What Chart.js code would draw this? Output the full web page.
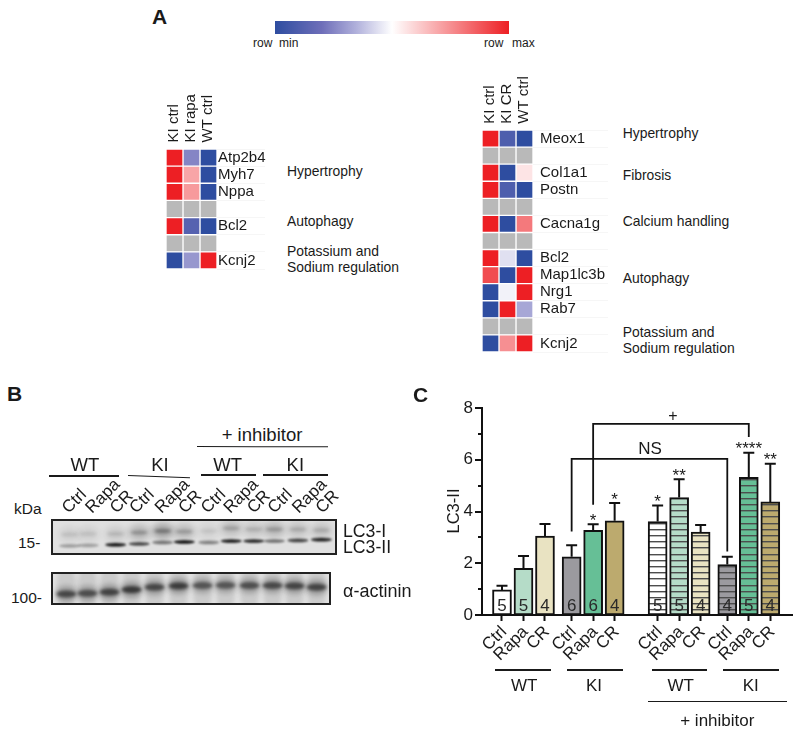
<!DOCTYPE html>
<html>
<head>
<meta charset="utf-8">
<title>LC3-II figure</title>
<script src="https://cdn.jsdelivr.net/npm/chart.js@4"></script>
<style>
    html, body { margin: 0; padding: 0; background: #fff; }
    #page { position: relative; width: 800px; height: 733px; overflow: hidden; font-family: "Liberation Sans", Arial, sans-serif; color: #1a1a1a; }
    #page canvas { position: absolute; }
    .label { position: absolute; white-space: nowrap; line-height: 1; }
    .rule { position: absolute; background: #1a1a1a; transform-origin: 0 50%; }
</style>
</head>
<body>
<div id="page"></div>
<script>
// panel A, heatmap values run from -1 (row min) to 1 (row max), null is a grey spacer row
const LEFT_COLUMNS = ["KI ctrl", "KI rapa", "WT ctrl"];
const LEFT_GENES = ["Atp2b4", "Myh7", "Nppa", "", "Bcl2", "", "Kcnj2"];
const LEFT_KI_CTRL = [1, 1, 1, null, 1, null, -1];
const LEFT_KI_RAPA = [-0.5, 0.4, 0.45, null, -0.75, null, -0.42];
const LEFT_WT_CTRL = [-1, -1, -1, null, -1, null, 1];

const RIGHT_COLUMNS = ["KI ctrl", "KI CR", "WT ctrl"];
const RIGHT_GENES = ["Meox1", "", "Col1a1", "Postn", "", "Cacna1g", "", "Bcl2", "Map1lc3b", "Nrg1", "Rab7", "", "Kcnj2"];
const RIGHT_KI_CTRL = [1, null, 1, 1, null, 1, null, 1, 0.8, -1, -1, null, -1];
const RIGHT_KI_CR = [-0.8, null, -1, -0.8, null, -1, null, -0.12, -1, -0.05, 1, null, 0.5];
const RIGHT_WT_CTRL = [-1, null, 0.12, -1, null, 0.6, null, -1, 1, 1, -0.35, null, 1];

// blue side of the colour bar goes through a slightly violet tone
const HEAT_STOPS = [
    [-1, 46, 77, 160],
    [-0.6, 110, 110, 185],
    [-0.3, 178, 178, 220],
    [0, 255, 255, 255],
    [1, 237, 31, 36],
];

// panel B, bands read from the two gels (position along the gel, depth in the gel, darkness)
const LANE_LABELS = ["Ctrl", "Rapa", "CR", "Ctrl", "Rapa", "CR", "Ctrl", "Rapa", "CR", "Ctrl", "Rapa", "CR"];
const LANE_TICKS = [18, 42, 67, 87, 113, 137, 160, 183, 207, 228, 253, 277];
const LC3_II_X = [19, 38, 66, 90, 114, 136, 161, 184, 207, 228, 252, 276];
const LC3_II_Y = [31.3, 30.7, 30, 29, 27.3, 26.7, 27.3, 25.7, 25.7, 25.7, 25, 24];
const LC3_II_LEVEL = [0.3, 0.3, 0.95, 0.7, 0.5, 0.95, 0.45, 0.9, 0.85, 0.5, 0.75, 0.9];
const LC3_I_X = [19, 38, 66, 90, 114, 136, 161, 184, 207, 228, 252, 276];
const LC3_I_Y = [18, 17.3, 17.3, 15.7, 14, 14.7, 14, 10.7, 12, 12, 12, 13];
const LC3_I_LEVEL = [0.12, 0.12, 0.15, 0.3, 0.42, 0.26, 0.1, 0.24, 0.18, 0.28, 0.2, 0.2];
const ACTININ_X = [16, 38, 61, 84, 108, 133, 158, 182, 207, 231, 254, 277];
const ACTININ_Y = [30, 29, 27.4, 24, 20.7, 19, 18.4, 18, 18.4, 18.4, 19, 20.7];
const ACTININ_LEVEL = [0.78, 0.74, 0.82, 0.88, 0.78, 0.86, 0.68, 0.68, 0.72, 0.76, 0.8, 0.8];

// panel C
const CATEGORIES = ["Ctrl", "Rapa", "CR", "Ctrl", "Rapa", "CR", "Ctrl", "Rapa", "CR", "Ctrl", "Rapa", "CR"];
const MEANS = [0.97, 1.8, 3.05, 2.25, 3.27, 3.64, 3.61, 4.54, 3.2, 1.95, 5.32, 4.37];
const UPPER_ERRORS = [1.13, 2.28, 3.52, 2.7, 3.51, 4.33, 4.23, 5.25, 3.48, 2.25, 6.27, 5.85];
const COUNTS = ["5", "5", "4", "6", "6", "4", "5", "5", "4", "4", "5", "4"];
const STARS = ["", "", "", "", "*", "*", "*", "**", "", "", "****", "**"];
const BAR_COLORS = ["#ffffff", "#b5dcc8", "#e9e3c2", "#9b9a9f", "#66bf96", "#bcaa6e"];
const Y_TICKS_MAX = 8;
// from bar, to bar, level of the bracket, bottom of the left leg, bottom of the right leg
const BRACKET_NS = [3, 9, 6.03, 3.23, 2.45];
const BRACKET_PLUS = [4, 10, 7.39, 4.26, 6.88];

const page = document.getElementById("page");
const FONT = "'Liberation Sans', Arial, sans-serif";
const INK = "#1a1a1a";


function addLabel(text, x, y, size, extra = {}) {
    // x is the left edge (or the centre when extra.center is set), y the vertical middle
    const el = document.createElement("div");
    el.className = "label";
    el.textContent = text;
    el.style.left = x + "px";
    el.style.top = y + "px";
    el.style.fontSize = size + "px";
    el.style.transform = extra.rotate ? "translate(-50%,-50%) rotate(" + extra.rotate + "deg)"
        : (extra.center ? "translate(-50%,-50%)" : "translateY(-50%)");
    if (extra.bold) el.style.fontWeight = "bold";
    page.appendChild(el);
}


function addRule(x1, y1, x2, y2, width = 1.4) {
    const el = document.createElement("div");
    el.className = "rule";
    el.style.left = x1 + "px";
    el.style.top = (y1 - width / 2) + "px";
    el.style.width = Math.hypot(x2 - x1, y2 - y1) + "px";
    el.style.height = width + "px";
    el.style.transform = "rotate(" + Math.atan2(y2 - y1, x2 - x1) + "rad)";
    page.appendChild(el);
}


function addCanvas(left, top, width, height) {
    const canvas = document.createElement("canvas");
    canvas.width = width;
    canvas.height = height;
    canvas.style.left = left + "px";
    canvas.style.top = top + "px";
    canvas.style.width = width + "px";
    canvas.style.height = height + "px";
    page.appendChild(canvas);
    return canvas;
}


function heatColor(value) {
    if (value === null)
        return "#b9b9b9";
    var i = 0;
    while (i < HEAT_STOPS.length - 2 && value > HEAT_STOPS[i + 1][0])
        i++;
    const a = HEAT_STOPS[i];
    const b = HEAT_STOPS[i + 1];
    const t = (value - a[0]) / (b[0] - a[0]);
    const rgb = [1, 2, 3].map(k => Math.round(a[k] + (b[k] - a[k]) * t));
    return "rgb(" + rgb.join(",") + ")";
}


function initHeatmap(box, chartArea, layout, columns, genes, columnValues) {
    const canvas = addCanvas(box.left, box.top, box.width, box.height);
    new Chart(canvas, {
        type: "bar",
        data: {
            labels: genes,
            datasets: columnValues.map((values, i) => ({
                label: columns[i],
                data: values.map(() => 1),
                backgroundColor: values.map(heatColor),
                borderColor: "#ffffff",
                borderWidth: 1,
                borderSkipped: false,
                barPercentage: 1,
                categoryPercentage: 1,
            })),
        },
        options: {
            indexAxis: "y",
            responsive: false,
            animation: false,
            devicePixelRatio: 1,
            layout: { padding: { left: chartArea.left, top: 0, right: 0, bottom: box.height - chartArea.bottom } },
            plugins: { legend: { display: false }, tooltip: { enabled: false } },
            scales: {
                x: {
                    type: "linear",
                    position: "top",
                    stacked: true,
                    min: 0,
                    max: 3,
                    afterBuildTicks: s => { s.ticks = [{ value: 0.5 }, { value: 1.5 }, { value: 2.5 }]; },
                    afterFit: s => { s.height = chartArea.top; },
                    grid: { display: false },
                    border: { display: false },
                    ticks: {
                        autoSkip: false,
                        minRotation: 90,
                        maxRotation: 90,
                        padding: layout.headerGap,
                        color: INK,
                        labelOffset: 17,
                        font: { family: FONT, size: 15 },
                        callback: (v, i) => columns[i],
                    },
                },
                y: {
                    type: "category",
                    position: "right",
                    stacked: true,
                    afterFit: s => { s.width = box.width - chartArea.right; },
                    border: { display: false },
                    // faint rules that run from each row into the label column
                    grid: { offset: true, drawOnChartArea: false, tickLength: layout.ruleLength, tickColor: "#f6f6f6", tickWidth: 1 },
                    ticks: { autoSkip: false, padding: layout.geneGap - layout.ruleLength, color: INK, font: { family: FONT, size: 15 } },
                },
            },
        },
    });
}


function initColorBar() {
    const canvas = addCanvas(275, 21, 234, 13);
    new Chart(canvas, {
        type: "bar",
        data: {
            labels: ["row"],
            datasets: [{
                data: [1],
                barPercentage: 1,
                categoryPercentage: 1,
                backgroundColor: ctx => {
                    const area = ctx.chart.chartArea;
                    if (!area)
                        return "#ffffff";
                    const gradient = ctx.chart.ctx.createLinearGradient(area.left, 0, area.right, 0);
                    HEAT_STOPS.forEach(s => gradient.addColorStop((s[0] + 1) / 2, heatColor(s[0])));
                    return gradient;
                },
            }],
        },
        options: {
            indexAxis: "y",
            responsive: false,
            animation: false,
            devicePixelRatio: 1,
            plugins: { legend: { display: false }, tooltip: { enabled: false } },
            scales: { x: { display: false, min: 0, max: 1 }, y: { display: false } },
        },
    });
}


// one soft blurred band, used as a point style on the gels
function bandSprite(width, height, level, blur) {
    const canvas = document.createElement("canvas");
    canvas.width = width + blur * 6;
    canvas.height = height + blur * 6;
    const ctx = canvas.getContext("2d");
    ctx.filter = "blur(" + blur + "px)";
    ctx.fillStyle = "rgba(0,0,0," + level + ")";
    ctx.beginPath();
    ctx.ellipse(canvas.width / 2, canvas.height / 2, width / 2, height / 2, 0, 0, Math.PI * 2);
    ctx.fill();
    return canvas;
}


function gelDataset(xs, ys, sprites) {
    return {
        data: xs.map((x, i) => ({ x: x, y: ys[i] })),
        pointStyle: sprites,
        pointRadius: 5,
        showLine: false,
    };
}


const gelFrame = {
    id: "gelFrame",
    beforeDatasetsDraw(chart, args, opts) {
        const a = chart.chartArea;
        chart.ctx.save();
        chart.ctx.fillStyle = opts.color;
        chart.ctx.fillRect(a.left, a.top, a.right - a.left, a.bottom - a.top);
        chart.ctx.restore();
    },
    afterDatasetsDraw(chart) {
        const a = chart.chartArea;
        chart.ctx.save();
        chart.ctx.strokeStyle = "#222222";
        chart.ctx.lineWidth = 2;
        chart.ctx.strokeRect(a.left + 1, a.top + 1, a.right - a.left - 2, a.bottom - a.top - 2);
        chart.ctx.restore();
    },
};


function initGel(box, gel, datasets, showLanes) {
    const canvas = addCanvas(box.left, box.top, box.width, box.height);
    const axisHeight = box.height - gel.height;
    new Chart(canvas, {
        type: "scatter",
        data: { datasets: datasets },
        options: {
            responsive: false,
            animation: false,
            devicePixelRatio: 1,
            layout: { padding: { left: 0, right: box.width - gel.width, top: 0, bottom: 0 } },
            plugins: { legend: { display: false }, tooltip: { enabled: false }, gelFrame: { color: gel.color } },
            scales: {
                x: {
                    type: "linear",
                    position: "top",
                    min: 0,
                    max: gel.width,
                    display: showLanes,
                    afterBuildTicks: s => { s.ticks = LANE_TICKS.map(v => ({ value: v })); },
                    afterFit: s => { s.height = axisHeight; },
                    grid: { display: false },
                    border: { display: false },
                    ticks: {
                        autoSkip: false,
                        minRotation: 45,
                        maxRotation: 45,
                        padding: -7,
                        labelOffset: 11,
                        color: INK,
                        font: { family: FONT, size: 17 },
                        callback: (v, i) => LANE_LABELS[i],
                    },
                },
                y: { display: false, reverse: true, min: 0, max: gel.height },
            },
        },
        plugins: [gelFrame],
    });
}


function initGels() {
    initGel({ left: 45, top: 470, width: 312, height: 91 }, { width: 292, height: 42, color: "#e0e0e0" }, [
        // smear above the LC3-I bands, then the two bands
        gelDataset(LC3_I_X, LC3_I_Y, LC3_I_LEVEL.map(l => bandSprite(22, 16, l * 0.6, 3))),
        gelDataset(LC3_I_X, LC3_I_Y, LC3_I_LEVEL.map(l => bandSprite(17, 4, l * 0.8, 1.6))),
        gelDataset(LC3_II_X, LC3_II_Y, LC3_II_LEVEL.map(l => bandSprite(21, 3.5, l, 1.2))),
    ], true);
    initGel({ left: 45, top: 566, width: 292, height: 45 }, { width: 292, height: 45, color: "#e2e2e2" }, [
        gelDataset(ACTININ_X, ACTININ_Y.map(() => 22), ACTININ_LEVEL.map(() => bandSprite(20, 48, 0.1, 2))),
        gelDataset(ACTININ_X, ACTININ_Y, ACTININ_LEVEL.map(l => bandSprite(22, 16, l * 0.3, 2.5))),
        gelDataset(ACTININ_X, ACTININ_Y, ACTININ_LEVEL.map(l => bandSprite(20, 7, l * 0.7, 1.8))),
    ], false);
}


function hatchPattern(color) {
    // 5 stripes in a 31 px tile gives the 6.2 px spacing of the stripes in the picture
    const tile = document.createElement("canvas");
    tile.width = 8;
    tile.height = 31;
    const ctx = tile.getContext("2d");
    ctx.fillStyle = color;
    ctx.fillRect(0, 0, 8, 31);
    ctx.fillStyle = "#4d4d4d";
    for (var i = 0; i < 5; i++)
        ctx.fillRect(0, Math.round(i * 6.2), 8, 1.4);
    return ctx.createPattern(tile, "repeat");
}


const barExtras = {
    id: "barExtras",
    afterDatasetsDraw(chart) {
        const ctx = chart.ctx;
        const x = chart.scales.x;
        const y = chart.scales.y;
        const points = chart.data.datasets[0].data;
        ctx.save();
        ctx.strokeStyle = "#111111";
        ctx.fillStyle = INK;
        ctx.textAlign = "center";
        ctx.textBaseline = "middle";

        // y axis ticks, the odd values are minor
        ctx.lineWidth = 2;
        y.ticks.forEach(t => {
            const py = Math.round(y.getPixelForValue(t.value));
            ctx.beginPath();
            ctx.moveTo(x.left - (t.value % 2 == 0 ? 7 : 4), py);
            ctx.lineTo(x.left, py);
            ctx.stroke();
        });

        // upper error bars with a cap
        points.forEach((p, i) => {
            const px = x.getPixelForValue(p.x);
            const top = y.getPixelForValue(UPPER_ERRORS[i]);
            ctx.beginPath();
            ctx.moveTo(px, y.getPixelForValue(p.y));
            ctx.lineTo(px, top);
            ctx.moveTo(px - 5.5, top);
            ctx.lineTo(px + 5.5, top);
            ctx.stroke();
        });

        // group sizes inside the bars, stars above the error bars
        points.forEach((p, i) => {
            const px = x.getPixelForValue(p.x);
            ctx.font = "17px " + FONT;
            ctx.fillStyle = "#2a2a2a";
            ctx.fillText(COUNTS[i], px, y.getPixelForValue(0) - 9);
            ctx.fillStyle = INK;
            ctx.fillText(STARS[i], px, y.getPixelForValue(UPPER_ERRORS[i]) - 3);
        });

        // comparison brackets
        [BRACKET_NS, BRACKET_PLUS].forEach(b => {
            const x1 = x.getPixelForValue(points[b[0]].x);
            const x2 = x.getPixelForValue(points[b[1]].x);
            ctx.lineWidth = 1.8;
            ctx.beginPath();
            ctx.moveTo(x1, y.getPixelForValue(b[3]));
            ctx.lineTo(x1, y.getPixelForValue(b[2]));
            ctx.lineTo(x2, y.getPixelForValue(b[2]));
            ctx.lineTo(x2, y.getPixelForValue(b[4]));
            ctx.stroke();
        });
        ctx.restore();
    },
};


function initBars() {
    const canvas = addCanvas(420, 380, 380, 353);
    // bars are evenly spaced inside a group, with a wider gap between groups
    const barX = CATEGORIES.map((c, i) => i + (i >= 3 ? 0.24 : 0) + (i >= 6 ? 1 : 0) + (i >= 9 ? 0.24 : 0));
    new Chart(canvas, {
        type: "bar",
        data: {
            datasets: [{
                data: MEANS.map((v, i) => ({ x: barX[i], y: v })),
                backgroundColor: MEANS.map((v, i) => i < 6 ? BAR_COLORS[i] : hatchPattern(BAR_COLORS[i - 6])),
                borderColor: "#111111",
                borderWidth: 2,
                borderSkipped: false,
                barThickness: 19,
            }],
        },
        options: {
            responsive: false,
            animation: false,
            devicePixelRatio: 1,
            layout: { padding: { left: 0, right: 8, top: 28, bottom: 0 } },
            plugins: { legend: { display: false }, tooltip: { enabled: false } },
            scales: {
                x: {
                    type: "linear",
                    offset: false,
                    min: -0.93,
                    max: 13.49,
                    afterBuildTicks: s => { s.ticks = barX.map(v => ({ value: v })); },
                    afterFit: s => { s.height = 118; },
                    grid: { offset: false, drawOnChartArea: false, tickLength: 6, tickWidth: 2, tickColor: "#111111" },
                    border: { color: "#111111", width: 2 },
                    ticks: {
                        autoSkip: false,
                        minRotation: 45,
                        maxRotation: 45,
                        padding: 1,
                        labelOffset: 2,
                        color: INK,
                        font: { family: FONT, size: 17 },
                        callback: (v, i) => CATEGORIES[i],
                    },
                },
                y: {
                    min: 0,
                    max: Y_TICKS_MAX,
                    afterFit: s => { s.width = 62; },
                    grid: { display: false, drawTicks: false },
                    border: { color: "#111111", width: 2 },
                    ticks: {
                        stepSize: 1,
                        autoSkip: false,
                        padding: 9,
                        color: INK,
                        font: { family: FONT, size: 17 },
                        callback: v => v % 2 == 0 ? v : "",
                    },
                },
            },
        },
        plugins: [barExtras],
    });
}


function addPanelA() {
    addLabel("A", 152, 16, 21, { bold: true });
    addLabel("row", 253, 43, 12);
    addLabel("min", 279, 43, 12);
    addLabel("row", 484, 43, 12);
    addLabel("max", 512, 43, 12);

    addLabel("Hypertrophy", 287, 171.7, 13.9);
    addLabel("Autophagy", 287, 221.7, 13.9);
    addLabel("Potassium and", 287, 251.7, 13.9);
    addLabel("Sodium regulation", 287, 268.3, 13.9);

    addLabel("Hypertrophy", 622.7, 134, 13.9);
    addLabel("Fibrosis", 622.7, 176, 13.9);
    addLabel("Calcium handling", 622.7, 222.3, 13.9);
    addLabel("Autophagy", 622.7, 279.3, 13.9);
    addLabel("Potassium and", 622.7, 332.7, 13.9);
    addLabel("Sodium regulation", 622.7, 349.3, 13.9);
}


function addPanelB() {
    addLabel("B", 7, 393, 21, { bold: true });
    addLabel("+ inhibitor", 262, 435, 18.5, { center: true });
    addRule(197, 446.7, 328, 447);
    addLabel("WT", 85, 465, 18.5, { center: true });
    addRule(49, 476, 119, 476);
    addLabel("KI", 160, 465, 18.5, { center: true });
    addRule(128, 475.7, 190, 478);
    addLabel("WT", 227.7, 465, 18.5, { center: true });
    addRule(201, 475, 256, 475);
    addLabel("KI", 295.3, 465, 18.5, { center: true });
    addRule(263.3, 475, 327.7, 475);

    addLabel("kDa", 14, 509, 15.5);
    addLabel("15-", 18, 543.3, 15.5);
    addLabel("100-", 11, 598, 15.5);
    addLabel("LC3-I", 343, 531.7, 17.7);
    addLabel("LC3-II", 343, 548, 17.7);
    addLabel("α-actinin", 343, 590.7, 18);
}


function addPanelC() {
    addLabel("C", 413, 394, 21, { bold: true });
    addLabel("LC3-II", 452.7, 510.7, 16.5, { rotate: -90 });
    addLabel("+", 673, 416, 16, { center: true });
    addLabel("NS", 650, 447.7, 17, { center: true });
    addRule(495, 670, 550.7, 670);
    addLabel("WT", 524.3, 685, 17, { center: true });
    addRule(566.7, 670, 622.7, 670);
    addLabel("KI", 594, 685, 17, { center: true });
    addRule(651.7, 670, 707.3, 670);
    addLabel("WT", 680.7, 685, 17, { center: true });
    addRule(723.3, 670, 779.3, 670);
    addLabel("KI", 750.7, 685, 17, { center: true });
    addRule(647.7, 701.7, 787.3, 701.7);
    addLabel("+ inhibitor", 717.3, 720, 17, { center: true });
}


initColorBar();
initHeatmap({ left: 140, top: 60, width: 140, height: 220 }, { left: 26, right: 77, top: 89, bottom: 209 },
    { headerGap: -1.4, geneGap: 1, ruleLength: 48 }, LEFT_COLUMNS, LEFT_GENES, [LEFT_KI_CTRL, LEFT_KI_RAPA, LEFT_WT_CTRL]);
initHeatmap({ left: 460, top: 60, width: 160, height: 300 }, { left: 22, right: 73, top: 70, bottom: 292 },
    { headerGap: -1.7, geneGap: 7, ruleLength: 75 }, RIGHT_COLUMNS, RIGHT_GENES, [RIGHT_KI_CTRL, RIGHT_KI_CR, RIGHT_WT_CTRL]);
initGels();
initBars();
addPanelA();
addPanelB();
addPanelC();
</script>
</body>
</html>
